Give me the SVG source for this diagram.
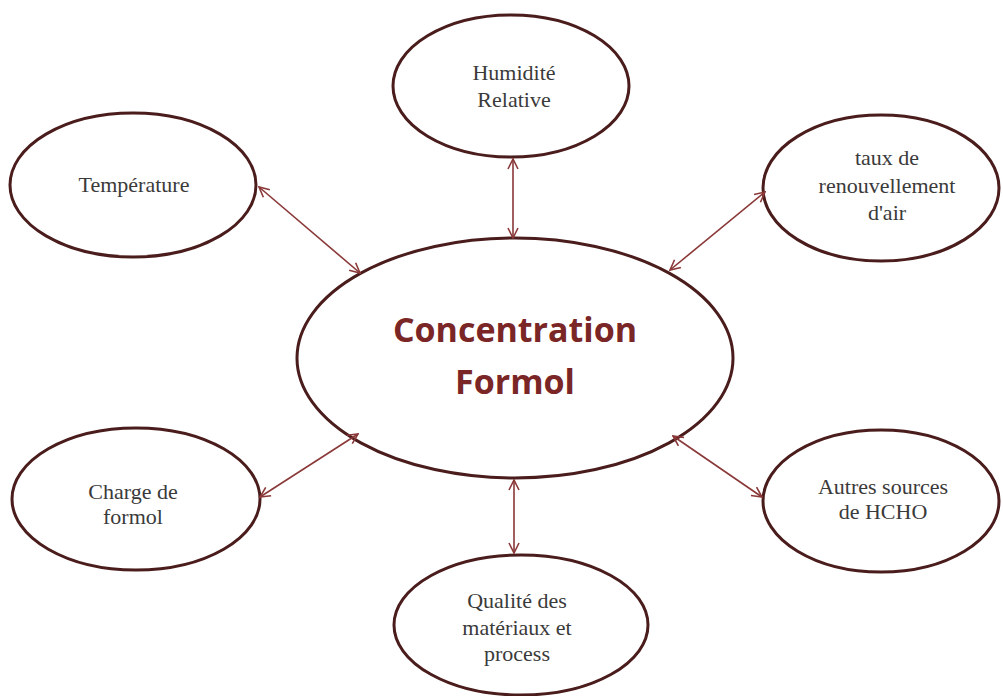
<svg xmlns="http://www.w3.org/2000/svg" width="1003" height="696" viewBox="0 0 1003 696">
<defs>
<marker id="ah" viewBox="0 0 12 12" refX="11" refY="6" markerWidth="12" markerHeight="12" markerUnits="userSpaceOnUse" orient="auto-start-reverse">
<path d="M1,1 L11,6 L1,11" fill="none" stroke="#8a3838" stroke-width="1.6"/>
</marker>
</defs>
<style>
.node ellipse{fill:#fff;stroke:#4a1c1c;stroke-width:3}
.lbl{font-family:"Liberation Serif","DejaVu Serif",serif;font-size:22px;fill:#3a3a3a;text-anchor:middle}
.main{font-family:"Open Sans","Liberation Sans",sans-serif;font-size:34px;font-weight:bold;fill:#7a2626;text-anchor:middle}
.conn line{stroke:#8a3838;stroke-width:1.6;marker-start:url(#ah);marker-end:url(#ah)}
</style>
<rect width="1003" height="696" fill="#fff"/>
<g class="node" id="center">
<ellipse cx="515" cy="358" rx="218" ry="120"/>
<text class="main" x="515" y="342">Concentration</text>
<text class="main" x="515" y="394">Formol</text>
</g>
<g class="node" id="humidite">
<ellipse cx="511" cy="86" rx="118" ry="71"/>
<text class="lbl" x="514" y="80">Humidité</text>
<text class="lbl" x="514" y="107">Relative</text>
</g>
<g class="node" id="temperature">
<ellipse cx="133" cy="185" rx="123" ry="72"/>
<text class="lbl" x="134" y="192">Température</text>
</g>
<g class="node" id="taux">
<ellipse cx="881" cy="188" rx="118" ry="73"/>
<text class="lbl" x="887" y="165">taux de</text>
<text class="lbl" x="887" y="193">renouvellement</text>
<text class="lbl" x="887" y="220">d'air</text>
</g>
<g class="node" id="charge">
<ellipse cx="136" cy="499" rx="124" ry="71"/>
<text class="lbl" x="133" y="499">Charge  de</text>
<text class="lbl" x="133" y="524">formol</text>
</g>
<g class="node" id="autres">
<ellipse cx="881" cy="501" rx="118" ry="71"/>
<text class="lbl" x="883" y="494">Autres sources</text>
<text class="lbl" x="883" y="519">de HCHO</text>
</g>
<g class="node" id="qualite">
<ellipse cx="521" cy="625" rx="127" ry="70"/>
<text class="lbl" x="517" y="608">Qualité des</text>
<text class="lbl" x="517" y="635">matériaux et</text>
<text class="lbl" x="517" y="661">process</text>
</g>
<g class="conn" id="connectors">
<line x1="259" y1="187" x2="360" y2="273"/>
<line x1="513" y1="159" x2="513" y2="238"/>
<line x1="765" y1="192" x2="670" y2="270"/>
<line x1="260" y1="497" x2="358" y2="434"/>
<line x1="673" y1="436" x2="762" y2="497"/>
<line x1="514" y1="480" x2="514" y2="553"/>
</g>
</svg>
